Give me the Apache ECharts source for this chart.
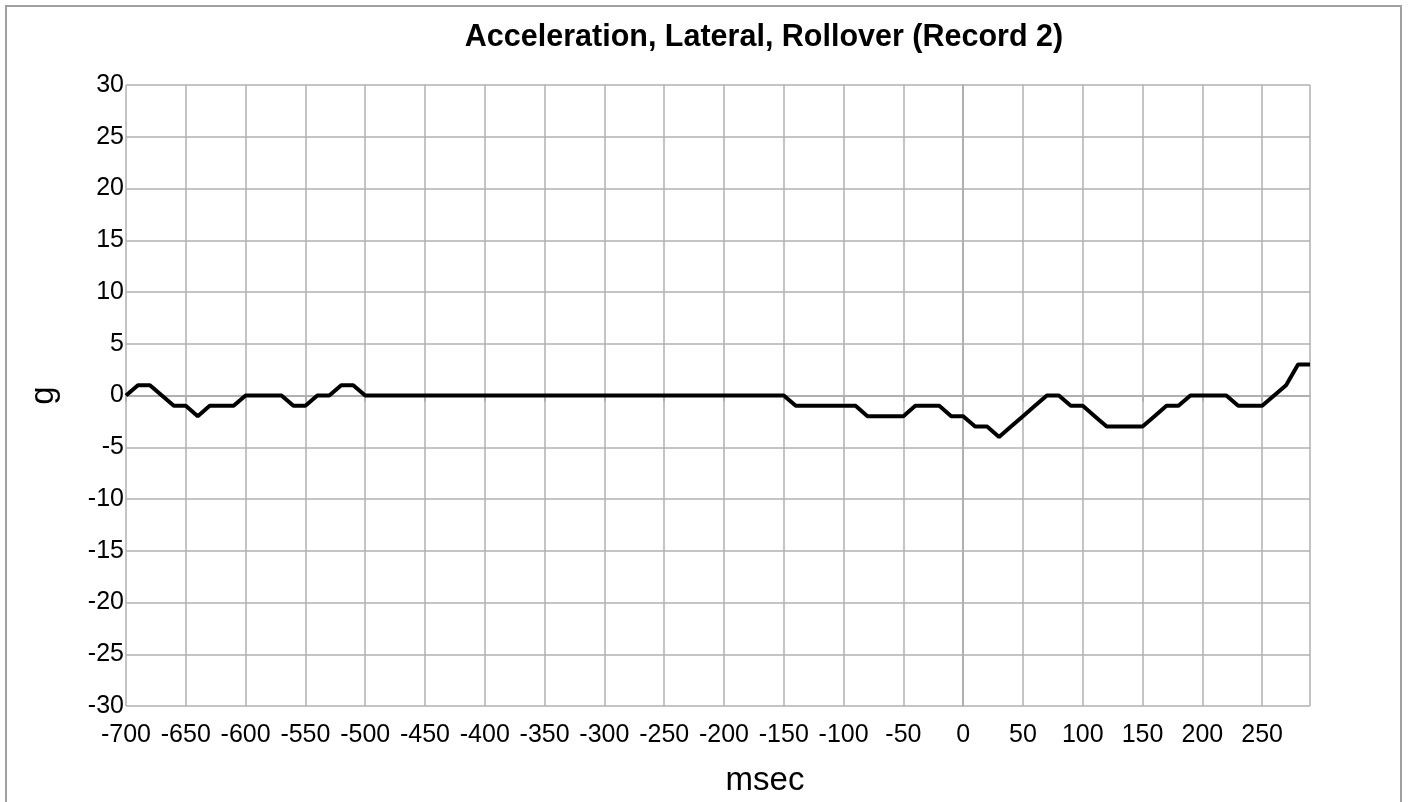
<!DOCTYPE html>
<html>
<head>
<meta charset="utf-8">
<script src="https://cdn.jsdelivr.net/npm/echarts@6/dist/echarts.min.js"></script>
<style>
	html, body { margin: 0; padding: 0; background: #fff; }
	#chartWrapper { width: 1410px; height: 802px; }
</style>
</head>
<body>
<div id="chartWrapper"></div>
<script>
	// time stamps (msec), one sample every 10 ms
	var times = [
		-700, -690, -680, -670, -660, -650, -640, -630, -620, -610,
		-600, -590, -580, -570, -560, -550, -540, -530, -520, -510,
		-500, -490, -480, -470, -460, -450, -440, -430, -420, -410,
		-400, -390, -380, -370, -360, -350, -340, -330, -320, -310,
		-300, -290, -280, -270, -260, -250, -240, -230, -220, -210,
		-200, -190, -180, -170, -160, -150, -140, -130, -120, -110,
		-100, -90, -80, -70, -60, -50, -40, -30, -20, -10,
		0, 10, 20, 30, 40, 50, 60, 70, 80, 90,
		100, 110, 120, 130, 140, 150, 160, 170, 180, 190,
		200, 210, 220, 230, 240, 250, 260, 270, 280, 290
	];
	// lateral acceleration (g)
	var accel = [
		0, 1, 1, 0, -1, -1, -2, -1, -1, -1,
		0, 0, 0, 0, -1, -1, 0, 0, 1, 1,
		0, 0, 0, 0, 0, 0, 0, 0, 0, 0,
		0, 0, 0, 0, 0, 0, 0, 0, 0, 0,
		0, 0, 0, 0, 0, 0, 0, 0, 0, 0,
		0, 0, 0, 0, 0, 0, -1, -1, -1, -1,
		-1, -1, -2, -2, -2, -2, -1, -1, -1, -2,
		-2, -3, -3, -4, -3, -2, -1, 0, 0, -1,
		-1, -2, -3, -3, -3, -3, -2, -1, -1, 0,
		0, 0, 0, -1, -1, -1, 0, 1, 3, 3
	];

	var FONT = '"Liberation Sans", Arial, sans-serif';
	var GRID_COLOR = '#b0b0b0';

	var myChart = echarts.init(document.getElementById('chartWrapper'));
	myChart.setOption({
		animation: false,
		backgroundColor: '#fff',
		textStyle: { fontFamily: FONT },
		graphic: [
			// outer frame
			{
				type: 'rect',
				shape: { x: 6, y: 6, width: 1395, height: 820 },
				style: { fill: 'none', stroke: '#a0a0a0', lineWidth: 2 },
				silent: true
			},
			{
				type: 'text',
				x: 764,
				y: 38,
				style: {
					text: 'Acceleration, Lateral, Rollover (Record 2)',
					font: 'bold 30.5px ' + FONT,
					fill: '#000',
					align: 'center',
					verticalAlign: 'middle'
				}
			}
		],
		grid: { left: 126, top: 85, right: 100, bottom: 95 },
		xAxis: {
			type: 'value',
			min: -700,
			max: 290,
			interval: 50,
			name: 'msec',
			nameLocation: 'middle',
			nameGap: 58,
			// name sits right of the plot centre in the original
			nameTextStyle: { fontSize: 33, color: '#000', fontFamily: FONT, padding: [0, 0, 0, 94] },
			axisLine: { lineStyle: { color: GRID_COLOR, width: 2 } },
			axisTick: { show: true, length: 6, lineStyle: { color: GRID_COLOR, width: 2 } },
			axisLabel: { fontSize: 25, color: '#000', margin: 17, showMaxLabel: false },
			splitLine: { show: true, lineStyle: { color: GRID_COLOR, width: 1.5 } }
		},
		yAxis: {
			type: 'value',
			min: -30,
			max: 30,
			interval: 5,
			name: 'g',
			nameLocation: 'middle',
			nameGap: 66,
			nameRotate: 90,
			nameTextStyle: { fontSize: 33, color: '#000', fontFamily: FONT },
			axisLine: { show: true, lineStyle: { color: GRID_COLOR, width: 2 } },
			axisTick: { show: false },
			axisLabel: { fontSize: 25, color: '#000', margin: 2 },
			splitLine: { show: true, lineStyle: { color: GRID_COLOR, width: 1.5 } }
		},
		series: [{
			type: 'line',
			data: times.map(function (t, i) { return [t, accel[i]]; }),
			showSymbol: false,
			symbol: 'none',
			lineStyle: { color: '#000', width: 4 },
			z: 5
		}]
	});
</script>
</body>
</html>
